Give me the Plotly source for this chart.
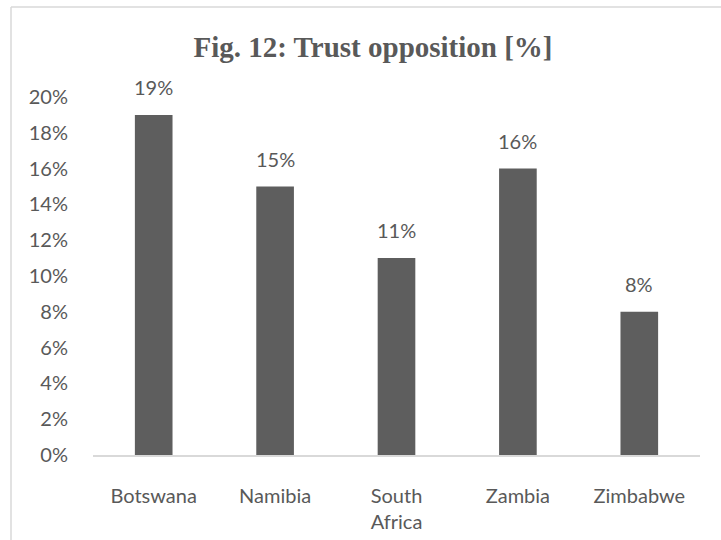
import plotly.graph_objects as go

countries = ["Botswana", "Namibia", "South<br>Africa", "Zambia", "Zimbabwe"]
trust_pct = [19, 15, 11, 16, 8]
y_ticks = list(range(0, 21, 2))
y_tick_labels = [f"{v}%" for v in y_ticks]

BAR = "#5e5e5e"
TEXT = "#595959"
LINE = "#d9d9d9"
FONT = "Lato, Open Sans, sans-serif"

fig = go.Figure(
    go.Bar(
        x=countries,
        y=trust_pct,
        marker=dict(color=BAR, line=dict(width=0)),
        width=0.31,
        cliponaxis=False,
    )
)

# value labels above each bar
for c, v in zip(countries, trust_pct):
    fig.add_annotation(
        x=c, y=v, xref="x", yref="y",
        text=f"{v}%", showarrow=False,
        yanchor="bottom", yshift=14,
        font=dict(family=FONT, size=20, color=TEXT),
    )

W, H = 721, 540
L, R, T, B = 93, 21, 97, 85

fig.update_layout(
    width=W,
    height=H,
    margin=dict(l=L, r=R, t=T, b=B, pad=0, autoexpand=False),
    paper_bgcolor="white",
    plot_bgcolor="white",
    showlegend=False,
    font=dict(family=FONT, size=20, color=TEXT),
    title=dict(
        text="<b>Fig. 12: Trust opposition [%]</b>",
        font=dict(family="Liberation Serif, Times New Roman, serif", size=29, color=TEXT),
        xref="container",
        x=373 / W,
        xanchor="center",
        yref="container",
        y=1 - 47 / H,
        yanchor="middle",
    ),
    xaxis=dict(
        showline=True,
        linecolor=LINE,
        linewidth=1.5,
        showgrid=False,
        ticks="",
        automargin=False,
        tickfont=dict(family=FONT, size=20, color=TEXT),
        ticklabelstandoff=22,
    ),
    yaxis=dict(
        range=[0, 20],
        tickvals=y_ticks,
        ticktext=y_tick_labels,
        showgrid=False,
        zeroline=False,
        showline=False,
        ticks="",
        automargin=False,
        ticklabelstandoff=24,
        tickfont=dict(family=FONT, size=20, color=TEXT),
    ),
)

# chart frame (left and top edges)
pw = W - L - R
ph = H - T - B
fx = lambda px: (px - L) / pw
fy = lambda py: 1 - (py - T) / ph
fig.add_shape(type="line", xref="paper", yref="paper",
              x0=fx(11), x1=fx(11), y0=fy(7), y1=fy(H + 5),
              line=dict(color=LINE, width=1.5))
fig.add_shape(type="line", xref="paper", yref="paper",
              x0=fx(11), x1=fx(W + 5), y0=fy(7), y1=fy(7),
              line=dict(color=LINE, width=1.5))

fig.write_html("out.html")
